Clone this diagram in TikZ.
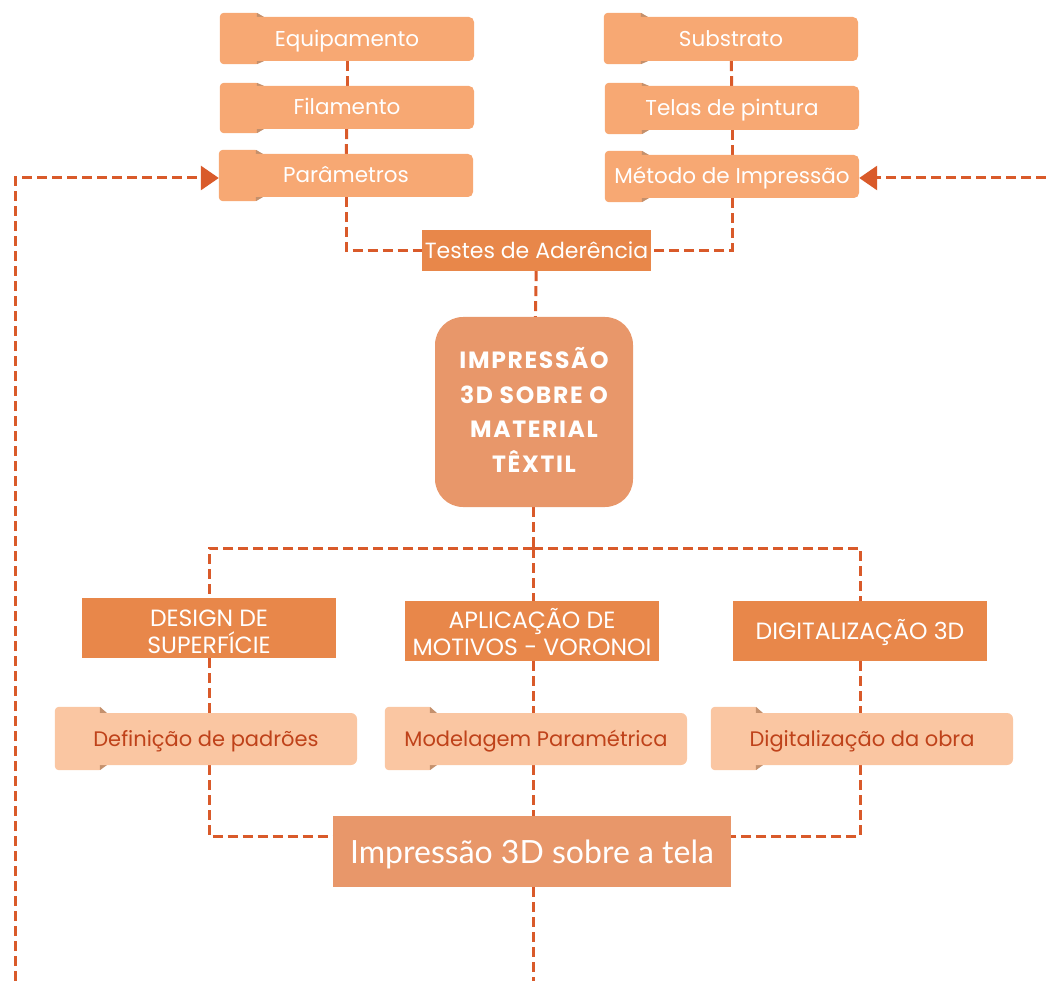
\documentclass[tikz,border=0pt]{standalone}
\usepackage{fontspec}
\setmainfont{Poppins}
\newfontfamily\titlefont[LetterSpace=7]{Poppins}
\newfontfamily\latofont{Lato}
\usetikzlibrary{arrows.meta,backgrounds}

\definecolor{linec}{HTML}{D95A2A}
\definecolor{peach}{HTML}{F7A873}
\definecolor{foldc}{HTML}{C4906C}
\definecolor{lightpeach}{HTML}{FAC6A2}
\definecolor{darktext}{HTML}{BF421A}
\definecolor{orangebox}{HTML}{E8874A}
\definecolor{softorange}{HTML}{E8976A}

\tikzset{
  link/.style={draw=linec, line width=3pt, dash pattern=on 10pt off 5pt},
  arrowlink/.style={link, -{Triangle[length=18pt,width=24pt]}},
  % vertical box of the text: capitals centred in the node
  capbox/.style={text height=#1, text depth=0pt},
  tabbox/.style={fill=peach, rounded corners=5pt, minimum width=254pt,
    minimum height=44pt, inner sep=0pt, text=white, capbox=15pt,
    font=\fontsize{21.5}{26}\selectfont},
  lightbox/.style={fill=lightpeach, rounded corners=6pt, minimum width=302pt,
    minimum height=52pt, inner sep=0pt, text=darktext, capbox=14.7pt,
    font=\fontsize{21}{25}\selectfont},
  header/.style={fill=orangebox, minimum width=254pt, minimum height=60pt,
    inner sep=0pt, text=white, align=center,
    font=\fontsize{23.5}{27}\selectfont},
}

% folder tab on the left end of a card: #1 node, #2 colour, #3 tab width,
% #4 rise above the card, #5 drop below the card
\newcommand\cardtab[5]{%
  \fill[#2, rounded corners=4pt] ([yshift=#4pt]#1.north west)
    rectangle ([xshift=#3pt,yshift=-#5pt]#1.south west);
  \fill[foldc] ([xshift=#3pt-3pt,yshift=#4pt]#1.north west)
    -- ([xshift=#3pt+4pt]#1.north west) -- ([xshift=#3pt-3pt]#1.north west) -- cycle;
  \fill[foldc] ([xshift=#3pt-3pt,yshift=-#5pt]#1.south west)
    -- ([xshift=#3pt+4pt]#1.south west) -- ([xshift=#3pt-3pt]#1.south west) -- cycle;
}

\begin{document}
\begin{tikzpicture}[x=1pt,y=-1pt]
\useasboundingbox (0,0) rectangle (1046,981);

% upper left stack
\node[tabbox] (equip) at (347,39) {Equipamento};
\node[tabbox, minimum height=43pt] (fil) at (347,107.5) {Filamento};
\node[tabbox, minimum height=43pt] (par) at (346,175.5) {Parâmetros};

% upper right stack
\node[tabbox] (sub) at (731,39) {Substrato};
\node[tabbox] (tel) at (732,108) {Telas de pintura};
\node[tabbox, minimum height=43pt] (met) at (732,176.5) {Método de Impressão};

% adherence test and central theme
\node[fill=orangebox, minimum width=229pt, minimum height=41pt, inner sep=0pt,
  text=white, capbox=15.4pt, font=\fontsize{22}{26}\selectfont] (test) at (536.5,250.5) {Testes de Aderência};
\node[fill=softorange, rounded corners=28pt, minimum width=198pt, minimum height=190pt,
  inner sep=0pt, text=white, align=center, capbox=120pt,
  font=\titlefont\bfseries\fontsize{23.5}{34.5}\selectfont] (core) at (534,412)
  {IMPRESSÃO\\3D SOBRE O\\MATERIAL\\TÊXTIL};

% three branches
\node[header, capbox=50.5pt] (design) at (209,628) {DESIGN DE\\SUPERFÍCIE};
\node[header, capbox=48.5pt] (motif) at (532,631) {APLICAÇÃO DE\\MOTIVOS - VORONOI};
\node[header, capbox=16.5pt] (digit) at (860,631) {DIGITALIZAÇÃO 3D};

\node[lightbox] (pattern) at (206,739) {Definição de padrões};
\node[lightbox] (model) at (536,739) {Modelagem Paramétrica};
\node[lightbox] (scan) at (862,739) {Digitalização da obra};

% result
\node[fill=softorange, minimum width=398pt, minimum height=71pt, inner sep=0pt,
  text=white, capbox=23pt, font=\latofont\fontsize{32}{38}\selectfont] (print) at (532,851.5)
  {Impressão 3D sobre a tela};

\coordinate (hub) at (533,548);
\coordinate (leftend) at (15,981);
\coordinate (rightend) at (1046,178);
\coordinate (downend) at (533,981);

\begin{scope}[on background layer]
  % connectors
  \draw[link] (equip) -- (fil);
  \draw[link] (fil) -- (par);
  \draw[link] (par) |- (test);
  \draw[link] (sub) -- (tel);
  \draw[link] (tel) -- (met);
  \draw[link] (met) |- (test);
  \draw[link] (test) -- (core);
  \draw[link] (core.south -| hub) -- (hub);
  \draw[link] (hub) -| (design.north);
  \draw[link] (hub) -| (digit.north);
  \draw[link] (hub) -- (motif.north -| hub);
  \draw[link] (design.south) -- (design.south |- pattern.north);
  \draw[link] (motif.south -| hub) -- (hub |- model.north);
  \draw[link] (digit.south) -- (digit.south |- scan.north);
  \draw[link] (design.south |- pattern.south) |- ([yshift=15pt]print.west);
  \draw[link] (digit.south |- scan.south) |- ([yshift=15pt]print.east);
  \draw[link] (hub |- model.south) -- (hub |- print.north);
  \draw[link] (hub |- print.south) -- (downend);
  \draw[arrowlink] (leftend) |- ([yshift=-2.5pt]par.west);
  \draw[arrowlink] (rightend) -- ([yshift=-1.5pt]met.east);
  % card tabs
  \cardtab{equip}{peach}{40}{4}{3}
  \cardtab{fil}{peach}{40}{3}{4}
  \cardtab{par}{peach}{40}{4}{4}
  \cardtab{sub}{peach}{40}{4}{3}
  \cardtab{tel}{peach}{40}{3}{4}
  \cardtab{met}{peach}{40}{4}{4}
  \cardtab{pattern}{lightpeach}{48}{6}{5}
  \cardtab{model}{lightpeach}{48}{6}{5}
  \cardtab{scan}{lightpeach}{48}{6}{5}
\end{scope}
\end{tikzpicture}
\end{document}
